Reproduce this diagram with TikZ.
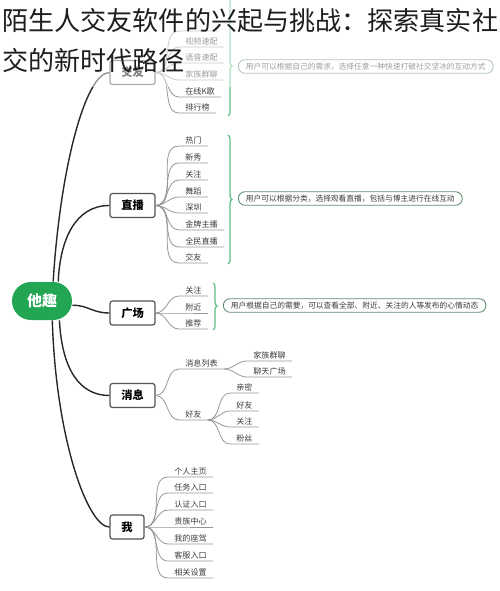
\documentclass[tikz,border=0pt]{standalone}
\usepackage{fontspec}
\setmainfont{Noto Sans CJK SC}
\usepackage{tikz}
\usetikzlibrary{decorations.pathreplacing,positioning}
\definecolor{tqgreen}{RGB}{34,166,84}
\definecolor{boxgray}{RGB}{85,85,85}
\definecolor{trunkgray}{RGB}{40,40,40}
\definecolor{twiggray}{RGB}{150,150,150}
\definecolor{leaftxt}{RGB}{60,60,60}
\definecolor{bracegreen}{RGB}{95,190,135}
\definecolor{notegreen}{RGB}{95,140,110}
\definecolor{ttlgray}{RGB}{30,30,30}
\tikzset{
  root/.style={fill=tqgreen, text=white, rounded corners=3.8mm, minimum width=12mm,
               minimum height=7.6mm, font=\fontsize{8.5}{9}\selectfont\bfseries},
  topic/.style={draw=boxgray, line width=0.7pt, rounded corners=0.5mm, fill=white,
                minimum width=9mm, minimum height=4.8mm, inner sep=0pt,
                font=\fontsize{6.4}{7}\selectfont\bfseries},
  leaf/.style={anchor=south west, inner xsep=1.2mm, inner ysep=0.35mm, text=leaftxt,
               font=\fontsize{4.6}{5}\selectfont},
  twig/.style={draw=twiggray, line width=0.45pt},
  trunk/.style={draw=trunkgray, line width=0.8pt},
  brc/.style={draw=bracegreen, line width=0.7pt, decorate,
              decoration={brace, amplitude=0.8mm, aspect=#1}},
  brc/.default=0.5,
  note/.style={draw=notegreen, line width=0.5pt, rounded corners=1.3mm, fill=white,
               anchor=west, minimum height=2.7mm, inner xsep=1.5mm, inner ysep=0pt,
               text=leaftxt, font=\fontsize{4.4}{5}\selectfont},
  ttl/.style={anchor=base west, inner sep=0pt, text=ttlgray,
              font=\fontsize{14.85}{16}\selectfont},
}

\begin{document}
\begin{tikzpicture}[x=0.2mm, y=-0.2mm]
  \useasboundingbox (0,0) rectangle (500,591);

  % centre and main topics
  \node[root] (tq) at (42,301) {他趣};
  \node[topic] (jy) at (132.5,72.5) {交友};
  \node[topic] (zb) at (132.5,205.5) {直播};
  \node[topic] (gc) at (132.5,313) {广场};
  \node[topic] (xx) at (132.5,395.5) {消息};
  \node[topic, minimum width=6.8mm] (wo) at (127,527) {我};

  \draw[trunk] (tq.60) .. controls (60,170) and (85,73) .. (jy.west);
  \draw[trunk] (tq.50) .. controls (60,240) and (75,205.5) .. (zb.west);
  \draw[trunk] (tq.-8) .. controls (88,305) and (92,313) .. (gc.west);
  \draw[trunk] (tq.-48) .. controls (62,370) and (80,395.5) .. (xx.west);
  \draw[trunk] (tq.-62) .. controls (56,440) and (88,527) .. (wo.west);

  % 交友
  \node[leaf, minimum width=7.6mm] (jy1) at (179,31) {};
  \node[leaf] (jy2) at (179,47) {视频速配};
  \node[leaf] (jy3) at (179,63) {语音速配};
  \node[leaf] (jy4) at (179,80) {家族群聊};
  \node[leaf] (jy5) at (179,97) {在线K歌};
  \node[leaf] (jy6) at (179,113) {排行榜};
  \foreach \n in {jy1,jy2,jy3,jy4,jy5,jy6}
    \draw[twig] (jy.east) to[out=0,in=180] (\n.south west) -- (\n.south east);
  \draw[brc=0.59] (228,-6) -- (228,116);
  \node[note] (jynote) at (238,66.5) {用户可以根据自己的需求，选择任意一种快速打破社交坚冰的互动方式};

  % 直播
  \node[leaf] (zb1) at (179,146) {热门};
  \node[leaf] (zb2) at (179,163) {新秀};
  \node[leaf] (zb3) at (179,180) {关注};
  \node[leaf] (zb4) at (179,197) {舞蹈};
  \node[leaf] (zb5) at (179,213) {深圳};
  \node[leaf] (zb6) at (179,230) {金牌主播};
  \node[leaf] (zb7) at (179,247) {全民直播};
  \node[leaf] (zb8) at (179,263) {交友};
  \foreach \n in {zb1,zb2,zb3,zb4,zb5,zb6,zb7,zb8}
    \draw[twig] (zb.east) to[out=0,in=180] (\n.south west) -- (\n.south east);
  \draw[brc=0.5] (228,135) -- (228,264);
  \node[note] (zbnote) at (238,198.5) {用户可以根据分类，选择观看直播，包括与博主进行在线互动};

  % 广场
  \node[leaf] (gc1) at (179,296) {关注};
  \node[leaf] (gc2) at (179,313) {附近};
  \node[leaf] (gc3) at (179,329) {推荐};
  \foreach \n in {gc1,gc2,gc3}
    \draw[twig] (gc.east) to[out=0,in=180] (\n.south west) -- (\n.south east);
  \draw[brc=0.49] (213,283) -- (213,330);
  \node[note] (gcnote) at (223,305.5) {用户根据自己的需要，可以查看全部、附近、关注的人等发布的心情动态};

  % 消息
  \node[leaf] (xx1) at (179,369) {消息列表};
  \node[leaf] (xx2) at (179,420) {好友};
  \foreach \n in {xx1,xx2}
    \draw[twig] (xx.east) to[out=0,in=180] (\n.south west) -- (\n.south east);
  \node[leaf] (xl1) at (247,361) {家族群聊};
  \node[leaf] (xl2) at (247,377) {聊天广场};
  \foreach \n in {xl1,xl2}
    \draw[twig] (xx1.south east) to[out=0,in=180] (\n.south west) -- (\n.south east);
  \node[leaf] (hy1) at (230,393) {亲密};
  \node[leaf] (hy2) at (230,411) {好友};
  \node[leaf] (hy3) at (230,427) {关注};
  \node[leaf] (hy4) at (230,444) {粉丝};
  \foreach \n in {hy1,hy2,hy3,hy4}
    \draw[twig] (xx2.south east) to[out=0,in=180] (\n.south west) -- (\n.south east);

  % 我
  \node[leaf] (wo1) at (168,477) {个人主页};
  \node[leaf] (wo2) at (168,493) {任务入口};
  \node[leaf] (wo3) at (168,510) {认证入口};
  \node[leaf] (wo4) at (168,527) {贵族中心};
  \node[leaf] (wo5) at (168,544) {我的座驾};
  \node[leaf] (wo6) at (168,561) {客服入口};
  \node[leaf] (wo7) at (168,578) {相关设置};
  \foreach \n in {wo1,wo2,wo3,wo4,wo5,wo6,wo7}
    \draw[twig] (wo.east) to[out=0,in=180] (\n.south west) -- (\n.south east);

  % faded strip under the title
  \fill[white, opacity=0.5] (0,0) rectangle (500,87);
  \node[ttl] (ttl1) at (2,30) {陌生人交友软件的兴起与挑战：探索真实社};
  \node[ttl] (ttl2) at (2,70) {交的新时代路径};
\end{tikzpicture}
\end{document}
